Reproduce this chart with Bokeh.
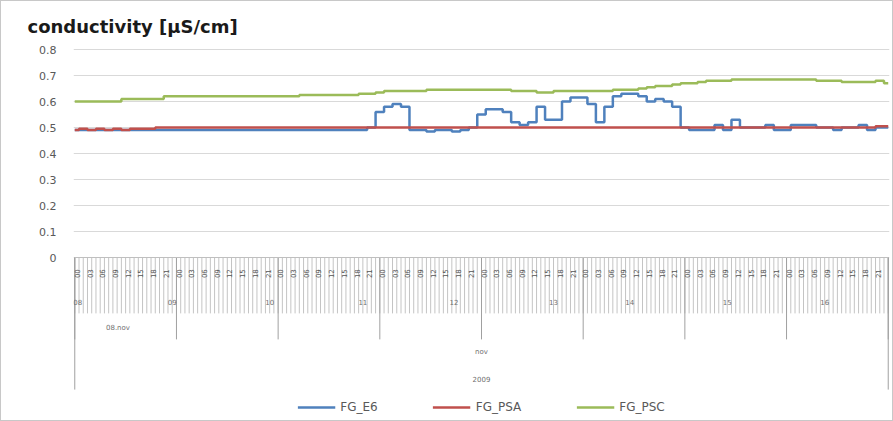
import math
from bokeh.plotting import figure
from bokeh.models import FixedTicker, Legend, LegendItem, Range1d, ColumnDataSource
from bokeh.core.properties import value
from bokeh.embed import file_html
from bokeh.resources import INLINE

# ---- data (2-hourly readings, hours since start of 08.nov 2009) ----
hours = list(range(0, 193, 2))
fg_e6 = ([0.49] * 35 + [0.50]
         + [0.56, 0.58, 0.59, 0.58]
         + [0.49, 0.49, 0.485, 0.49, 0.49, 0.485, 0.49]
         + [0.50, 0.55, 0.57, 0.57, 0.56, 0.52, 0.51, 0.52]
         + [0.58, 0.53, 0.53, 0.60, 0.615, 0.615, 0.59, 0.52]
         + [0.58, 0.62, 0.63, 0.63, 0.62, 0.60, 0.61, 0.60, 0.58]
         + [0.50, 0.49, 0.49, 0.49, 0.51, 0.49, 0.53, 0.50, 0.50, 0.50, 0.51, 0.49,
            0.49, 0.51, 0.51, 0.51, 0.50, 0.50, 0.49, 0.50, 0.50, 0.51, 0.49, 0.50, 0.50])
fg_psa = ([0.49, 0.495, 0.49, 0.495, 0.49, 0.495, 0.49, 0.495, 0.495, 0.495]
          + [0.50] * 85 + [0.505, 0.505])
fg_psc = ([0.60] * 6 + [0.61] * 5 + [0.62] * 16 + [0.625] * 7 + [0.63] * 2 + [0.635]
          + [0.64] * 5 + [0.645] * 10 + [0.64] * 3 + [0.635] * 2 + [0.64] * 7 + [0.645] * 3
          + [0.65, 0.655, 0.66, 0.66, 0.665, 0.67, 0.67, 0.675, 0.68, 0.68, 0.68]
          + [0.685] * 10 + [0.68] * 3 + [0.675] * 4 + [0.68, 0.67])

y_ticks = [0, 0.1, 0.2, 0.3, 0.4, 0.5, 0.6, 0.7, 0.8]
hour_ticks = list(range(0, 193))
hour_label_hours = list(range(0, 192, 3))
hour_labels = ["%02d" % (h % 24) for h in hour_label_hours]
day_bounds = [0, 24, 48, 72, 96, 120, 144, 168, 192]
day_label_hours = [0.7, 23, 46, 68, 89.5, 113, 131, 154, 177]
day_labels = ["08", "09", "10", "11", "12", "13", "14", "15", "16"]
group_label = "08.nov"
month_label = "nov"
year_label = "2009"

FONT = "DejaVu Sans"
GRAY = "#6f6f6f"

p = figure(width=893, height=421, output_backend="svg", toolbar_location=None,
           x_axis_location=None, x_range=Range1d(-0.3, 192.3),
           y_range=Range1d(-0.6346, 0.8308),
           min_border_left=72, min_border_right=5, min_border_top=40, min_border_bottom=0,
           title="conductivity [µS/cm]")
p.title.text_font = FONT
p.title.text_font_size = "18px"
p.title.text_font_style = "bold"
p.title.text_color = "#1a1a1a"
p.title.offset = -46
p.outline_line_color = None
p.xgrid.visible = False
p.ygrid.ticker = FixedTicker(ticks=y_ticks)
p.ygrid.grid_line_color = "#d9d9d9"
p.yaxis.ticker = FixedTicker(ticks=y_ticks)
p.yaxis.major_label_overrides = {0: "0"}
p.yaxis.axis_line_color = None
p.yaxis.major_tick_line_color = None
p.yaxis.minor_tick_line_color = None
p.yaxis.major_tick_out = 0
p.yaxis.major_tick_in = 0
p.yaxis.major_label_standoff = 17
p.yaxis.major_label_text_font = FONT
p.yaxis.major_label_text_font_size = "11px"
p.yaxis.major_label_text_color = "#595959"

# ---- category style x axis drawn below y=0 ----
p.segment(x0=hour_ticks, x1=hour_ticks, y0=[0] * len(hour_ticks), y1=[-0.215] * len(hour_ticks),
          line_color="#c4c4c4", line_width=1)
p.segment(x0=day_bounds, x1=day_bounds, y0=[0] * len(day_bounds), y1=[-0.315] * len(day_bounds),
          line_color="#a0a0a0", line_width=1)
p.segment(x0=[day_bounds[0], day_bounds[-1]], x1=[day_bounds[0], day_bounds[-1]],
          y0=[0, 0], y1=[-0.508, -0.508], line_color="#a0a0a0", line_width=1)
p.segment(x0=[day_bounds[0]], x1=[day_bounds[-1]], y0=[0], y1=[0], line_color="#bfbfbf", line_width=1)
p.text(x=[h + 0.5 for h in hour_label_hours], y=[-0.062] * len(hour_label_hours), text=hour_labels,
       angle=math.pi / 2, text_font=value(FONT), text_font_size="7px", text_color="#555555",
       text_align="center", text_baseline="middle")
p.text(x=day_label_hours, y=[-0.17] * len(day_label_hours), text=day_labels,
       text_font=value(FONT), text_font_size="7px", text_color=GRAY,
       text_align="center", text_baseline="middle")
p.text(x=[10.2], y=[-0.27], text=[group_label], text_font=value(FONT), text_font_size="7px",
       text_color=GRAY, text_align="center", text_baseline="middle")
p.text(x=[96], y=[-0.362], text=[month_label], text_font=value(FONT), text_font_size="7px",
       text_color=GRAY, text_align="center", text_baseline="middle")
p.text(x=[96], y=[-0.469], text=[year_label], text_font=value(FONT), text_font_size="7px",
       text_color=GRAY, text_align="center", text_baseline="middle")

# ---- series ----
src = ColumnDataSource(dict(h=hours, e6=fg_e6, psa=fg_psa, psc=fg_psc))
r1 = p.step("h", "e6", source=src, mode="center", line_color="#4F81BD", line_width=2.5)
r2 = p.step("h", "psa", source=src, mode="center", line_color="#C0504D", line_width=2.5)
r3 = p.step("h", "psc", source=src, mode="center", line_color="#9BBB59", line_width=2.5)

legend = Legend(items=[LegendItem(label="FG_E6", renderers=[r1]),
                       LegendItem(label="FG_PSA", renderers=[r2]),
                       LegendItem(label="FG_PSC", renderers=[r3])],
                orientation="horizontal", location="bottom_center",
                glyph_width=38, glyph_height=10, label_standoff=5, spacing=55,
                margin=8, padding=2, border_line_color=None, background_fill_alpha=0,
                label_text_font=FONT, label_text_font_size="12px", label_text_color="#595959")
p.add_layout(legend)
p.styles = {"border": "1px solid #c8c8c8"}

open("out.html", "w").write(file_html(p, INLINE))
